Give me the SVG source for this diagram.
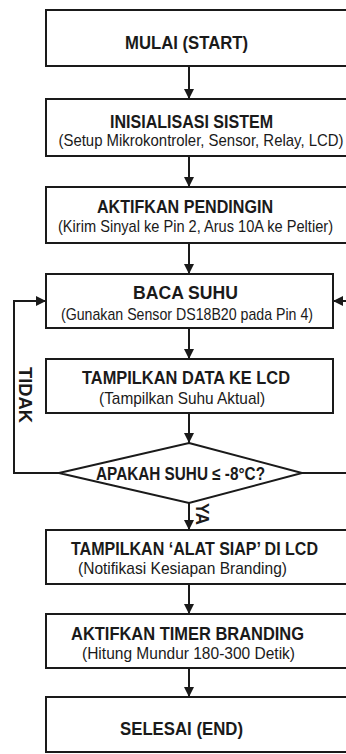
<svg xmlns="http://www.w3.org/2000/svg" width="346" height="754" viewBox="0 0 346 754">
<style>
.box{fill:#fff;stroke:#1a1a1a;stroke-width:2}
.ln{fill:none;stroke:#1a1a1a;stroke-width:2}
.t{font-family:"Liberation Sans",Arial,sans-serif;font-weight:bold;font-size:18px;fill:#1a1a1a;text-anchor:middle}
.s{font-family:"Liberation Sans",Arial,sans-serif;font-size:16px;fill:#1a1a1a;text-anchor:middle}
</style>
<defs>
<marker id="ah" viewBox="0 0 10 10" refX="10" refY="5" markerWidth="10" markerHeight="10" markerUnits="userSpaceOnUse" orient="auto">
<path d="M0,0 L10,5 L0,10 Z" fill="#1a1a1a"/>
</marker>
</defs>
<rect width="346" height="754" fill="#fff"/>
<g id="connectors">
<line class="ln" x1="189" y1="66" x2="189" y2="99" marker-end="url(#ah)"/>
<line class="ln" x1="189" y1="156" x2="189" y2="187" marker-end="url(#ah)"/>
<line class="ln" x1="189" y1="243" x2="189" y2="274" marker-end="url(#ah)"/>
<line class="ln" x1="189" y1="328" x2="189" y2="359" marker-end="url(#ah)"/>
<line class="ln" x1="189" y1="413" x2="189" y2="443" marker-end="url(#ah)"/>
<line class="ln" x1="189" y1="503" x2="189" y2="530" marker-end="url(#ah)"/>
<line class="ln" x1="189" y1="584" x2="189" y2="614" marker-end="url(#ah)"/>
<line class="ln" x1="189" y1="668" x2="189" y2="697" marker-end="url(#ah)"/>
<polyline class="ln" points="59,473 14,473 14,301 46,301" marker-end="url(#ah)"/>
<line class="ln" x1="302" y1="473" x2="348" y2="473"/>
<line class="ln" x1="348" y1="301" x2="333" y2="301" marker-end="url(#ah)"/>
<text class="t" transform="translate(19,395) rotate(90)" textLength="56" lengthAdjust="spacingAndGlyphs">TIDAK</text>
<text class="t" transform="translate(196,514) rotate(90)" textLength="22" lengthAdjust="spacingAndGlyphs">YA</text>
</g>
<g id="start">
<rect class="box" x="46" y="10" width="310" height="56"/>
<text class="t" transform="translate(186.5,49) scale(0.85,1)" textLength="144.7" lengthAdjust="spacingAndGlyphs">MULAI (START)</text>
</g>
<g id="init">
<rect class="box" x="46" y="99" width="310" height="57"/>
<text class="t" transform="translate(191.5,128) scale(0.85,1)" textLength="191.8" lengthAdjust="spacingAndGlyphs">INISIALISASI SISTEM</text>
<text class="s" transform="translate(201,146) scale(0.85,1)" textLength="335.3" lengthAdjust="spacingAndGlyphs">(Setup Mikrokontroler, Sensor, Relay, LCD)</text>
</g>
<g id="cooler">
<rect class="box" x="46" y="187" width="310" height="56"/>
<text class="t" transform="translate(185,213) scale(0.85,1)" textLength="207.1" lengthAdjust="spacingAndGlyphs">AKTIFKAN PENDINGIN</text>
<text class="s" transform="translate(195.5,232) scale(0.85,1)" textLength="323.5" lengthAdjust="spacingAndGlyphs">(Kirim Sinyal ke Pin 2, Arus 10A ke Peltier)</text>
</g>
<g id="read">
<rect class="box" x="46" y="274" width="287" height="54"/>
<text class="t" transform="translate(185.5,299) scale(0.85,1)" textLength="123.5" lengthAdjust="spacingAndGlyphs">BACA SUHU</text>
<text class="s" transform="translate(187,320) scale(0.85,1)" textLength="296.5" lengthAdjust="spacingAndGlyphs">(Gunakan Sensor DS18B20 pada Pin 4)</text>
</g>
<g id="display">
<rect class="box" x="46" y="359" width="287" height="54"/>
<text class="t" transform="translate(186,384) scale(0.85,1)" textLength="244.7" lengthAdjust="spacingAndGlyphs">TAMPILKAN DATA KE LCD</text>
<text class="s" transform="translate(182,404) scale(0.85,1)" textLength="195.3" lengthAdjust="spacingAndGlyphs">(Tampilkan Suhu Aktual)</text>
</g>
<g id="decision">
<polygon class="box" points="189,443 302,473 189,503 59,473"/>
<text class="t" transform="translate(180.5,480) scale(0.85,1)" textLength="198.8" lengthAdjust="spacingAndGlyphs">APAKAH SUHU ≤ -8°C?</text>
</g>
<g id="ready">
<rect class="box" x="46" y="530" width="310" height="54"/>
<text class="t" transform="translate(194.5,555) scale(0.85,1)" textLength="290.6" lengthAdjust="spacingAndGlyphs">TAMPILKAN ‘ALAT SIAP’ DI LCD</text>
<text class="s" transform="translate(182.5,574) scale(0.85,1)" textLength="245.9" lengthAdjust="spacingAndGlyphs">(Notifikasi Kesiapan Branding)</text>
</g>
<g id="timer">
<rect class="box" x="46" y="614" width="310" height="54"/>
<text class="t" transform="translate(187.5,640) scale(0.85,1)" textLength="274.1" lengthAdjust="spacingAndGlyphs">AKTIFKAN TIMER BRANDING</text>
<text class="s" transform="translate(188.5,659) scale(0.85,1)" textLength="250.6" lengthAdjust="spacingAndGlyphs">(Hitung Mundur 180-300 Detik)</text>
</g>
<g id="end">
<rect class="box" x="46" y="697" width="310" height="55"/>
<text class="t" transform="translate(181.5,735) scale(0.85,1)" textLength="144.7" lengthAdjust="spacingAndGlyphs">SELESAI (END)</text>
</g>
</svg>
